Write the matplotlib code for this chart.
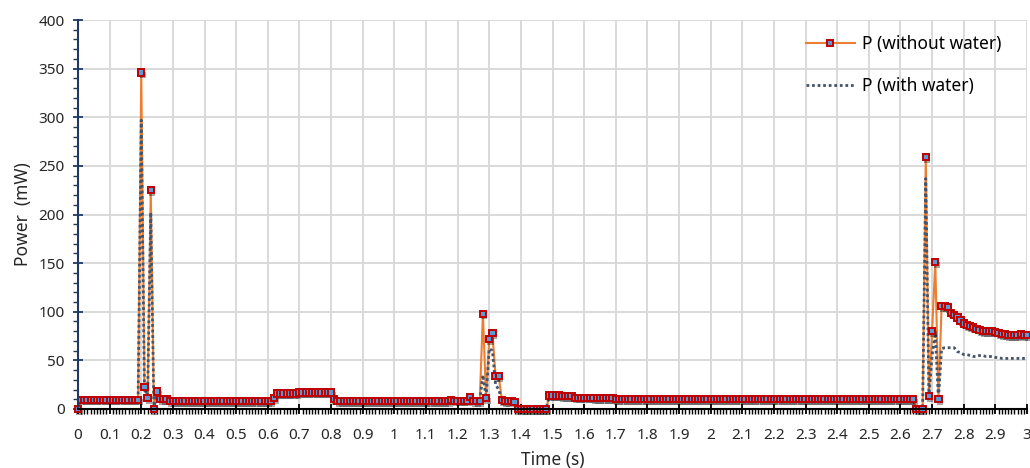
import numpy as np
import matplotlib
matplotlib.use("Agg")
import matplotlib.pyplot as plt
import matplotlib.patheffects as pe
from matplotlib.lines import Line2D
from matplotlib.ticker import MultipleLocator, FixedLocator

plt.rcParams['font.family'] = ['Noto Sans', 'DejaVu Sans']

# sample times, one every 0.01 s
time = np.linspace(0, 3, 301)

# power readings (mW), 20 samples per row, row start time in the comment
p_without_water = [
    0, 9.5, 9.5, 9.5, 9.5, 9.5, 9.5, 9.5, 9.5, 9.5, 9.5, 9.5, 9.5, 9.5, 9.5, 9.5, 9.5, 9.5, 9.5, 9.5,  # 0.00
    346, 23, 11, 225, 0, 18, 10, 10, 10, 8, 8, 8, 8, 8, 8, 8, 8, 8, 8, 8,  # 0.20
    8, 8, 8, 8, 8, 8, 8, 8, 8, 8, 8, 8, 8, 8, 8, 8, 8, 8, 8, 8,  # 0.40
    8, 8, 11, 16, 16, 16, 16, 16, 16, 16, 17, 17, 17, 17, 17, 17, 17, 17, 17, 17,  # 0.60
    17, 10, 8, 8, 8, 8, 8, 8, 8, 8, 8, 8, 8, 8, 8, 8, 8, 8, 8, 8,  # 0.80
    8, 8, 8, 8, 8, 8, 8, 8, 8, 8, 8, 8, 8, 8, 8, 8, 8, 8, 9.5, 8.5,  # 1.00
    8.5, 8.5, 8.5, 8.5, 12, 8, 8, 8, 98, 11, 72, 78, 34, 34, 9, 8, 8, 8.5, 7.5, 0,  # 1.20
    0, 0, 0, 0, 0, 0, 0, 0, 0, 14, 14, 14, 14, 13, 13, 13, 13, 11.5, 11.5, 11.5,  # 1.40
    11.5, 11.5, 11.5, 11, 11, 11, 11, 11, 11, 11, 10, 10, 10, 10, 10, 10, 10, 10, 10, 10,  # 1.60
    10, 10, 10, 10, 10, 10, 10, 10, 10, 10, 10, 10, 10, 10, 10, 10, 10, 10, 10, 10,  # 1.80
    10, 10, 10, 10, 10, 10, 10, 10, 10, 10, 10, 10, 10, 10, 10, 10, 10, 10, 10, 10,  # 2.00
    10, 10, 10, 10, 10, 10, 10, 10, 10, 10, 10, 10, 10, 10, 10, 10, 10, 10, 10, 10,  # 2.20
    10, 10, 10, 10, 10, 10, 10, 10, 10, 10, 10, 10, 10, 10, 10, 10, 10, 10, 10, 10,  # 2.40
    10, 10, 10, 10, 10, 0, 0, 0, 259, 13, 80, 151, 10, 106, 106, 105, 99, 97, 94, 91,  # 2.60
    88, 86, 85, 84, 82.5, 81, 80, 80, 80, 80, 79.5, 78, 77, 77, 76, 76, 76, 76, 77, 76,  # 2.80
    76,  # 3.00
]

p_with_water = [
    0, 9.5, 9.5, 9.5, 9.5, 9.5, 9.5, 9.5, 9.5, 9.5, 9.5, 9.5, 9.5, 9.5, 9.5, 9.5, 9.5, 9.5, 9.5, 9.5,  # 0.00
    297, 23, 11, 202, 0, 18, 10, 10, 10, 8, 8, 8, 8, 8, 8, 8, 8, 8, 8, 8,  # 0.20
    8, 8, 8, 8, 8, 8, 8, 8, 8, 8, 8, 8, 8, 8, 8, 8, 8, 8, 8, 8,  # 0.40
    8, 8, 11, 16, 16, 16, 16, 16, 16, 16, 17, 17, 17, 17, 17, 17, 17, 17, 17, 17,  # 0.60
    17, 10, 8, 8, 8, 8, 8, 8, 8, 8, 8, 8, 8, 8, 8, 8, 8, 8, 8, 8,  # 0.80
    8, 8, 8, 8, 8, 8, 8, 8, 8, 8, 8, 8, 8, 8, 8, 8, 8, 8, 9.5, 8.5,  # 1.00
    8.5, 8.5, 8.5, 8.5, 12, 8, 8, 8, 35, 11, 62, 60, 25, 20, 9, 8, 8, 8.5, 7.5, 0,  # 1.20
    0, 0, 0, 0, 0, 0, 0, 0, 0, 14, 14, 14, 14, 13, 13, 13, 13, 11.5, 11.5, 11.5,  # 1.40
    11.5, 11.5, 11.5, 11, 11, 11, 11, 11, 11, 11, 10, 10, 10, 10, 10, 10, 10, 10, 10, 10,  # 1.60
    10, 10, 10, 10, 10, 10, 10, 10, 10, 10, 10, 10, 10, 10, 10, 10, 10, 10, 10, 10,  # 1.80
    10, 10, 10, 10, 10, 10, 10, 10, 10, 10, 10, 10, 10, 10, 10, 10, 10, 10, 10, 10,  # 2.00
    10, 10, 10, 10, 10, 10, 10, 10, 10, 10, 10, 10, 10, 10, 10, 10, 10, 10, 10, 10,  # 2.20
    10, 10, 10, 10, 10, 10, 10, 10, 10, 10, 10, 10, 10, 10, 10, 10, 10, 10, 10, 10,  # 2.40
    10, 10, 10, 10, 10, 0, 0, 0, 237, 13, 55, 78, 10, 62, 63, 63, 63, 63, 59, 58,  # 2.60
    56, 56, 55, 54, 54, 55, 55, 54, 54, 54, 53, 53, 52, 52, 52, 52, 52, 52, 52, 52,  # 2.80
    52,  # 3.00
]

x_major = np.round(np.arange(0, 3.01, 0.1), 1)
x_labels = [f"{v:g}" for v in x_major]
y_major = [0, 50, 100, 150, 200, 250, 300, 350, 400]

orange = '#ED7D31'
dots = '#44546A'
navy = '#1F3864'

fig = plt.figure(figsize=(10.30, 4.68), dpi=100)
ax = fig.add_axes([78 / 1030, 59 / 468, 949 / 1030, 389 / 468])

ax.plot(time, p_without_water, color=orange, lw=1.5, zorder=3, clip_on=False)
ax.plot(time, p_with_water, color=dots, lw=2, ls=(0, (1, 1)), zorder=4, clip_on=False)
# markers on top of both lines, with a soft drop shadow like the Excel original
ax.plot(time, p_without_water, ls='none', marker='s', ms=4.5, mfc='#5B9BD5', mec='#C00000',
        mew=1.4, zorder=5, clip_on=False,
        path_effects=[pe.SimplePatchShadow(offset=(1, -1.8), shadow_rgbFace='k', alpha=0.35),
                      pe.Normal()])

ax.set_xlim(0, 3)
ax.set_ylim(0, 400)
ax.xaxis.set_major_locator(FixedLocator(x_major))
ax.set_xticklabels(x_labels)
ax.xaxis.set_minor_locator(MultipleLocator(0.01))
ax.set_yticks(y_major)
ax.yaxis.set_minor_locator(MultipleLocator(10))

ax.grid(which='major', color='#D9D9D9', lw=1.4, zorder=0)
ax.set_axisbelow(True)

for s in ['top', 'right']:
    ax.spines[s].set_visible(False)
ax.spines['left'].set_color(navy)
ax.spines['left'].set_linewidth(1.5)
ax.spines['bottom'].set_color('black')
ax.spines['bottom'].set_linewidth(1.5)
ax.spines['left'].set_zorder(6)
ax.spines['bottom'].set_zorder(6)

ax.tick_params(axis='x', which='major', direction='inout', length=7, width=1.3,
               color='black', labelsize=11, pad=10, labelcolor='#262626')
ax.tick_params(axis='x', which='minor', direction='out', length=3.5, width=1, color='black')
ax.tick_params(axis='y', which='major', direction='inout', length=7, width=1.3,
               color=navy, labelsize=11, pad=6, labelcolor='#262626')
ax.tick_params(axis='y', which='minor', direction='out', length=3.5, width=1, color=navy)

ax.set_xlabel('Time (s)', fontsize=12.5, color='#262626', labelpad=6)
ax.set_ylabel('Power  (mW)', fontsize=12.5, color='#262626', labelpad=5)

handles = [
    Line2D([], [], color=orange, lw=1.5, marker='s', ms=4.5, mfc='#5B9BD5', mec='#C00000', mew=1.4),
    Line2D([], [], color=dots, lw=2, ls=(0, (1, 1))),
]
fig.legend(handles, ['P (without water)', 'P (with water)'], loc='upper left',
           bbox_to_anchor=(806 / 1030, 1 - 35 / 468), bbox_transform=fig.transFigure,
           frameon=False, fontsize=12.5, handlelength=2.8, handletextpad=0.4,
           labelspacing=1.4, borderpad=0, borderaxespad=0, markerscale=1)

fig.savefig('out.png', dpi=100)
